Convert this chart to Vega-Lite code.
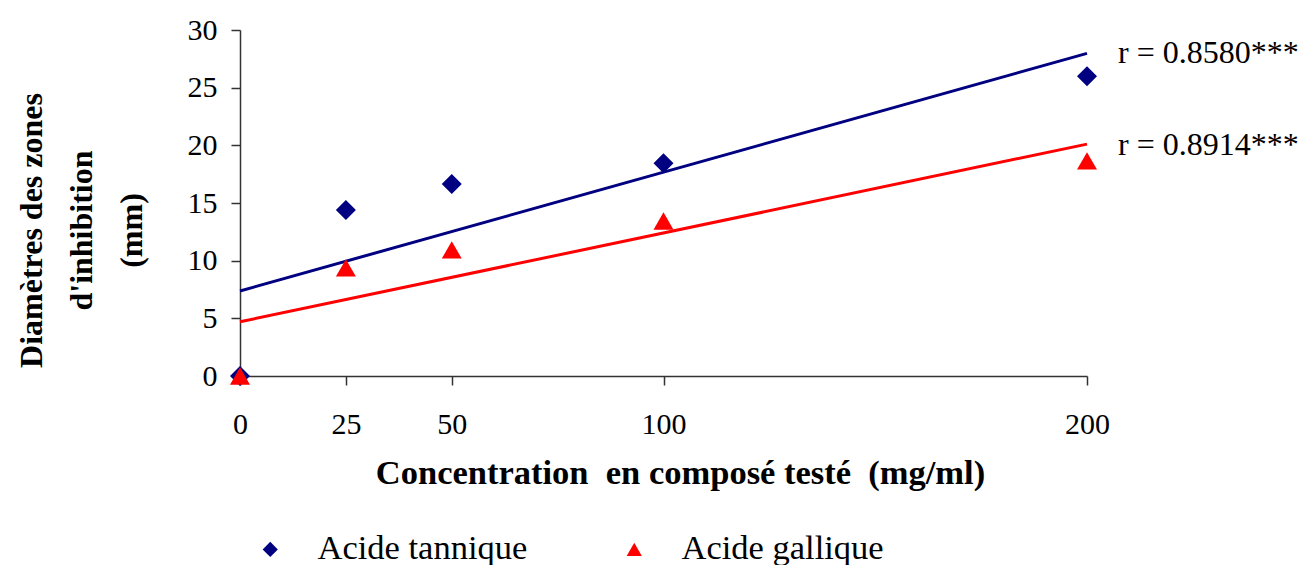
{
  "$schema": "https://vega.github.io/schema/vega-lite/v6.json",
  "autosize": "none",
  "width": 847,
  "height": 346,
  "padding": {"left": 240, "top": 30, "right": 216, "bottom": 189},
  "background": "white",
  "config": {
    "view": {"stroke": null},
    "font": "Liberation Serif",
    "axis": {
      "grid": false,
      "labelFont": "Liberation Serif",
      "labelFontSize": 30,
      "labelColor": "black",
      "labelFlush": false,
      "titleFont": "Liberation Serif",
      "titleFontWeight": "bold",
      "titleColor": "black",
      "domainColor": "#333333",
      "domainWidth": 1.5,
      "tickColor": "#333333",
      "tickWidth": 1.5,
      "tickSize": 9
    }
  },
  "datasets": {
    "mesures": [
      {"concentration": 0, "diametre": 0, "serie": "Acide tannique"},
      {"concentration": 25, "diametre": 14.4, "serie": "Acide tannique"},
      {"concentration": 50, "diametre": 16.65, "serie": "Acide tannique"},
      {"concentration": 100, "diametre": 18.45, "serie": "Acide tannique"},
      {"concentration": 200, "diametre": 26.0, "serie": "Acide tannique"},
      {"concentration": 0, "diametre": 0, "serie": "Acide gallique"},
      {"concentration": 25, "diametre": 9.37, "serie": "Acide gallique"},
      {"concentration": 50, "diametre": 10.93, "serie": "Acide gallique"},
      {"concentration": 100, "diametre": 13.44, "serie": "Acide gallique"},
      {"concentration": 200, "diametre": 18.65, "serie": "Acide gallique"}
    ],
    "correlations": [
      {"concentration": 200, "diametre": 28.0, "label": "r = 0.8580***"},
      {"concentration": 200, "diametre": 20.0, "label": "r = 0.8914***"}
    ]
  },
  "layer": [
    {
      "data": {"name": "mesures"},
      "transform": [
        {"filter": "datum.serie === 'Acide tannique'"},
        {"regression": "diametre", "on": "concentration"}
      ],
      "mark": {"type": "line", "strokeWidth": 3, "color": "#000080", "clip": false},
      "encoding": {
        "x": {"field": "concentration", "type": "quantitative"},
        "y": {"field": "diametre", "type": "quantitative"}
      }
    },
    {
      "data": {"name": "mesures"},
      "transform": [
        {"filter": "datum.serie === 'Acide gallique'"},
        {"regression": "diametre", "on": "concentration"}
      ],
      "mark": {"type": "line", "strokeWidth": 3, "color": "#FF0000", "clip": false},
      "encoding": {
        "x": {"field": "concentration", "type": "quantitative"},
        "y": {"field": "diametre", "type": "quantitative"}
      }
    },
    {
      "data": {"name": "mesures"},
      "mark": {"type": "point", "filled": true, "opacity": 1, "size": 400, "clip": false},
      "encoding": {
        "x": {
          "field": "concentration",
          "type": "quantitative",
          "scale": {"domain": [0, 200], "nice": false, "zero": true},
          "axis": {
            "values": [0, 25, 50, 100, 200],
            "labelPadding": 24,
            "title": "Concentration\u00a0 en composé testé\u00a0 (mg/ml)",
            "titleFontSize": 34.5,
            "titlePadding": 17,
            "titleX": 440
          }
        },
        "y": {
          "field": "diametre",
          "type": "quantitative",
          "scale": {"domain": [0, 30], "nice": false},
          "axis": {
            "values": [0, 5, 10, 15, 20, 25, 30],
            "labelPadding": 14,
            "title": ["Diamètres des zones", "d'inhibition", "(mm)"],
            "titleFontSize": 32,
            "titleLineHeight": 50,
            "titlePadding": 39,
            "titleY": 200
          }
        },
        "color": {
          "field": "serie",
          "type": "nominal",
          "scale": {"domain": ["Acide tannique", "Acide gallique"], "range": ["#000080", "#FF0000"]},
          "legend": {
            "title": null,
            "orient": "none",
            "direction": "horizontal",
            "legendX": 13,
            "legendY": 502,
            "labelFont": "Liberation Serif",
            "labelFontSize": 34.5,
            "labelColor": "black",
            "labelLimit": 400,
            "labelOffset": 30,
            "columnPadding": 89,
            "symbolSize": 230,
            "symbolStrokeWidth": 0
          }
        },
        "shape": {
          "field": "serie",
          "type": "nominal",
          "scale": {"domain": ["Acide tannique", "Acide gallique"], "range": ["diamond", "triangle-up"]}
        }
      }
    },
    {
      "data": {"name": "correlations"},
      "mark": {"type": "text", "align": "left", "baseline": "middle", "dx": 31, "fontSize": 32, "font": "Liberation Serif", "color": "black", "clip": false},
      "encoding": {
        "x": {"field": "concentration", "type": "quantitative"},
        "y": {"field": "diametre", "type": "quantitative"},
        "text": {"field": "label"}
      }
    }
  ]
}
